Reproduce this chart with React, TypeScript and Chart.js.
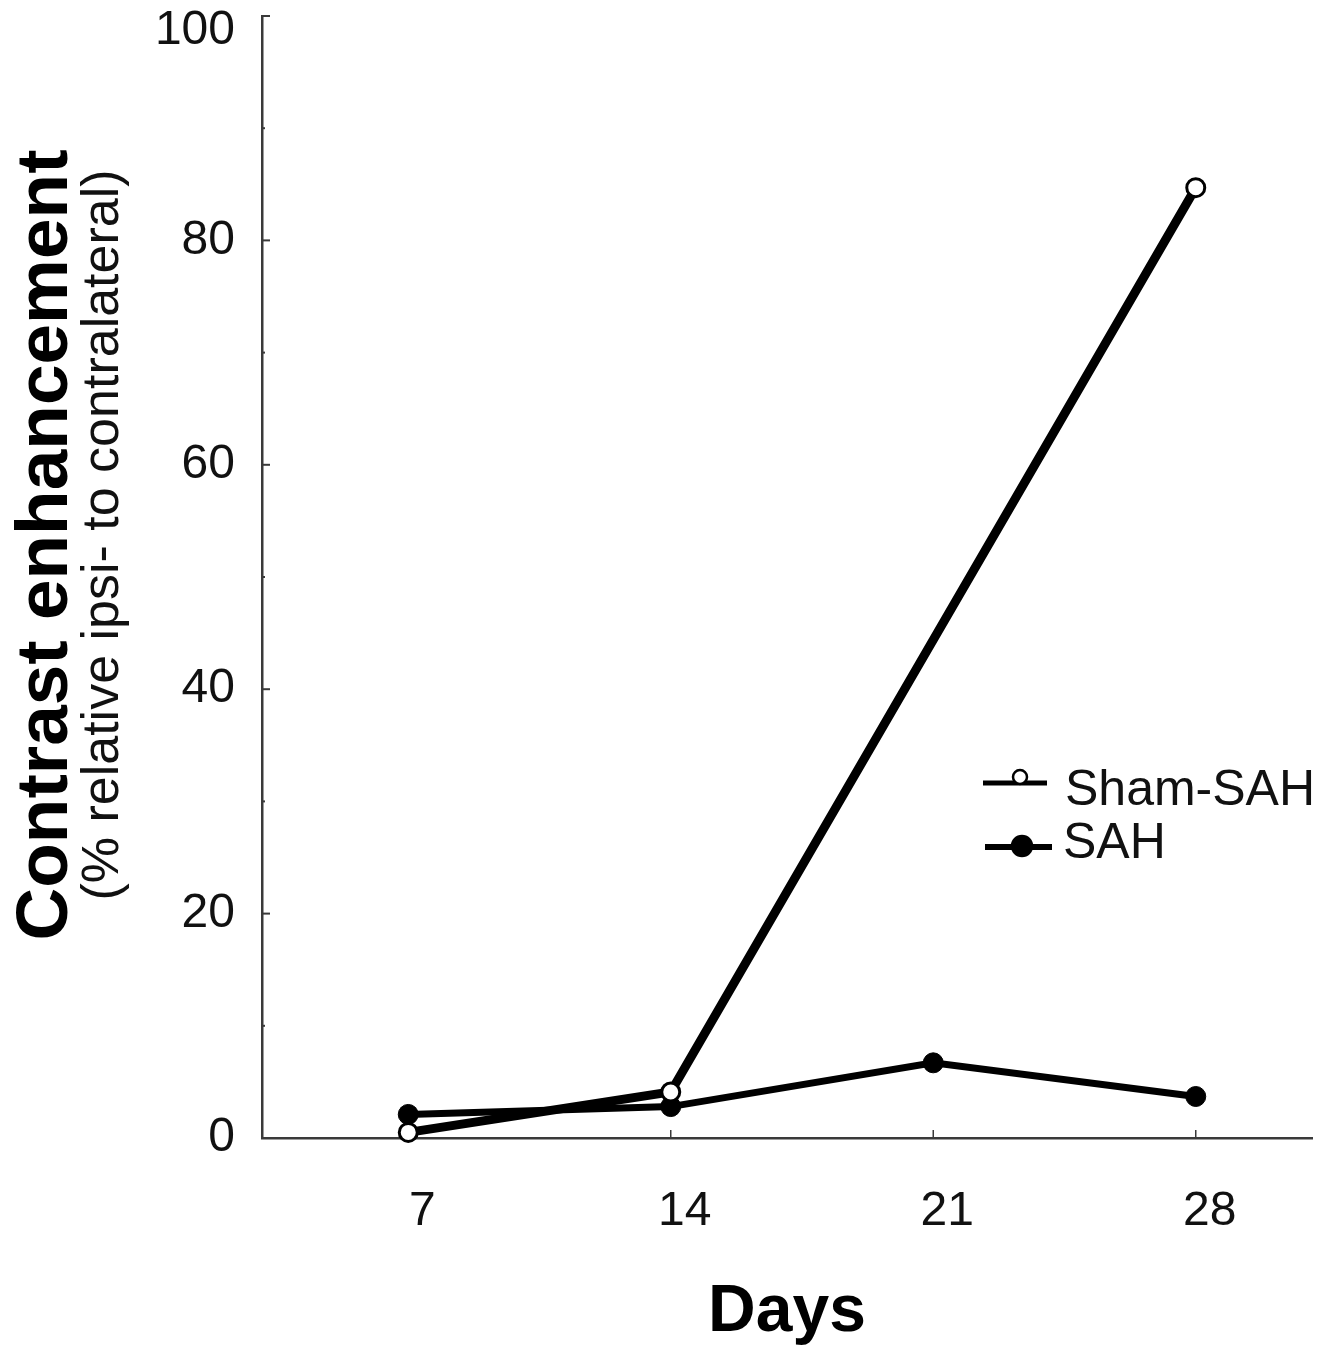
import React, { useEffect, useRef } from 'react';
import { Chart, registerables } from 'chart.js';

Chart.register(...registerables);

// ---- data ----
const days = [7, 14, 21, 28];
const shamSAH: (number | null)[] = [0.5, 4.1, null, 84.7];
const sah: number[] = [2.1, 2.8, 6.7, 3.7];
const seriesLabels = ['Sham-SAH', 'SAH'];
const xTickValues = [7, 14, 21, 28];
const yTickValues = [0, 20, 40, 60, 80, 100];
const yMinorTickValues = [10, 30, 50, 70, 90];
const yTitle = 'Contrast enhancement';
const ySubtitle = '(% relative ipsi- to contralateral)';
const xTitle = 'Days';

const FONT = '"Liberation Sans", Arial, Helvetica, sans-serif';
const AXIS_COLOR = '#3a3a3a';

const tickMarksPlugin = {
  id: 'inwardTicks',
  beforeDatasetsDraw(chart: any) {
    const { ctx, chartArea, scales } = chart;
    const x = scales.x;
    const y = scales.y;
    ctx.save();
    ctx.strokeStyle = AXIS_COLOR;
    ctx.lineWidth = 2;
    yTickValues.forEach((v) => {
      const py = y.getPixelForValue(v);
      ctx.beginPath();
      ctx.moveTo(chartArea.left, py);
      ctx.lineTo(chartArea.left + 8, py);
      ctx.stroke();
    });
    yMinorTickValues.forEach((v) => {
      const py = y.getPixelForValue(v);
      ctx.beginPath();
      ctx.moveTo(chartArea.left, py);
      ctx.lineTo(chartArea.left + 3, py);
      ctx.stroke();
    });
    ctx.lineWidth = 1.5;
    xTickValues.forEach((v) => {
      const px = x.getPixelForValue(v);
      ctx.beginPath();
      ctx.moveTo(px, chartArea.bottom);
      ctx.lineTo(px, chartArea.bottom - 8);
      ctx.stroke();
    });
    ctx.restore();
  },
};

const titlesAndLegendPlugin = {
  id: 'titlesAndLegend',
  afterDraw(chart: any) {
    const { ctx } = chart;
    ctx.save();
    ctx.fillStyle = '#000';
    // y title
    ctx.save();
    ctx.translate(67, 545);
    ctx.rotate(-Math.PI / 2);
    ctx.textAlign = 'center';
    ctx.textBaseline = 'alphabetic';
    ctx.font = `bold 73px ${FONT}`;
    ctx.fillText(yTitle, 0, 0);
    ctx.restore();
    // y subtitle
    ctx.save();
    ctx.translate(118, 535);
    ctx.rotate(-Math.PI / 2);
    ctx.textAlign = 'center';
    ctx.textBaseline = 'alphabetic';
    ctx.font = `52px ${FONT}`;
    ctx.fillStyle = '#111';
    ctx.fillText(ySubtitle, 0, 0);
    ctx.restore();

    // legend
    const entries = [
      { label: seriesLabels[0], lineY: 783, x0: 983, x1: 1047, mx: 1020, my: 777, r: 7, fill: '#fff', lw: 5, textX: 1065, baseY: 805 },
      { label: seriesLabels[1], lineY: 847, x0: 985, x1: 1052, mx: 1022, my: 846, r: 10, fill: '#000', lw: 6, textX: 1063, baseY: 858 },
    ];
    entries.forEach((e) => {
      ctx.strokeStyle = '#000';
      ctx.lineWidth = e.lw;
      ctx.beginPath();
      ctx.moveTo(e.x0, e.lineY);
      ctx.lineTo(e.x1, e.lineY);
      ctx.stroke();
      ctx.beginPath();
      ctx.arc(e.mx, e.my, e.r, 0, Math.PI * 2);
      ctx.fillStyle = e.fill;
      ctx.fill();
      ctx.lineWidth = 2.5;
      ctx.stroke();
      ctx.fillStyle = '#111';
      ctx.font = `50px ${FONT}`;
      ctx.textAlign = 'left';
      ctx.textBaseline = 'alphabetic';
      ctx.fillText(e.label, e.textX, e.baseY);
    });
    ctx.restore();
  },
};

export default function App() {
  const canvasRef = useRef<HTMLCanvasElement | null>(null);

  useEffect(() => {
    document.body.style.margin = '0';
    const canvas = canvasRef.current;
    if (!canvas) return;
    const chart = new Chart(canvas, {
      type: 'line',
      data: {
        datasets: [
          {
            label: seriesLabels[0],
            data: days.map((d, i) => ({ x: d, y: shamSAH[i] })) as any,
            borderColor: '#000',
            borderWidth: 9,
            pointRadius: 9,
            pointBorderWidth: 3,
            pointBackgroundColor: '#fff',
            pointBorderColor: '#000',
            spanGaps: true,
            clip: false as any,
          },
          {
            label: seriesLabels[1],
            data: days.map((d, i) => ({ x: d, y: sah[i] })) as any,
            borderColor: '#000',
            borderWidth: 7,
            pointRadius: 10,
            pointBorderWidth: 1,
            pointBackgroundColor: '#000',
            pointBorderColor: '#000',
            clip: false as any,
          },
        ],
      },
      options: {
        animation: false,
        responsive: false,
        layout: { padding: { left: 0, top: 16, right: 26, bottom: 0 } },
        plugins: {
          legend: { display: false },
          tooltip: { enabled: false },
        },
        scales: {
          x: {
            type: 'linear',
            min: 3.1,
            max: 31.1,
            afterBuildTicks: (s: any) => {
              s.ticks = xTickValues.map((v) => ({ value: v }));
            },
            afterFit: (s: any) => {
              s.height = 213;
              s.paddingLeft = 0;
              s.paddingRight = 0;
            },
            ticks: {
              autoSkip: false,
              maxRotation: 0,
              padding: 45,
              labelOffset: 14,
              color: '#111',
              font: { family: FONT, size: 48 },
              callback: (v: any) => String(v),
            },
            grid: { display: true, drawOnChartArea: false, drawTicks: false },
            border: { display: true, color: AXIS_COLOR, width: 2.5 },
            title: {
              display: true,
              text: xTitle,
              color: '#000',
              font: { family: FONT, size: 66, weight: 'bold', lineHeight: 1.15 },
              padding: { top: 0, bottom: 0 },
            },
          },
          y: {
            type: 'linear',
            min: 0,
            max: 100,
            afterBuildTicks: (s: any) => {
              s.ticks = yTickValues.map((v) => ({ value: v }));
            },
            afterFit: (s: any) => {
              s.width = 262;
              s.paddingTop = 0;
              s.paddingBottom = 0;
            },
            ticks: {
              padding: 27,
              color: '#111',
              font: { family: FONT, size: 48, lineHeight: 0.6 },
              callback: (v: any) => (v === 100 ? ['', '100'] : String(v)),
            },
            grid: { display: true, drawOnChartArea: false, drawTicks: false },
            border: { display: true, color: AXIS_COLOR, width: 2.5 },
          },
        },
      },
      plugins: [tickMarksPlugin, titlesAndLegendPlugin],
    });
    return () => chart.destroy();
  }, []);

  return (
    <div style={{ position: 'absolute', left: 0, top: 0, width: 1338, height: 1351 }}>
      <canvas ref={canvasRef} width={1338} height={1351} style={{ display: 'block' }} />
    </div>
  );
}
